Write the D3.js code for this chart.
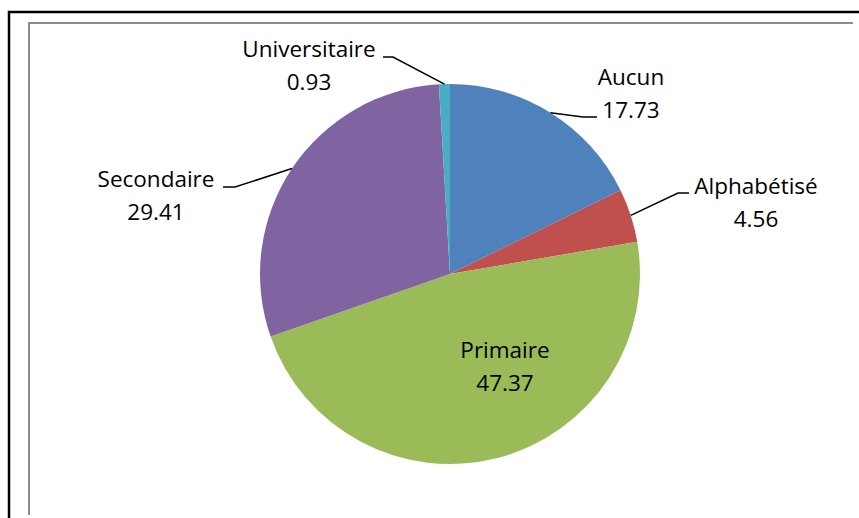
<!DOCTYPE html>
<html>
<head>
<meta charset="utf-8">
<script src="https://cdn.jsdelivr.net/npm/d3@7"></script>
<style>
  body { margin: 0; background: #fff; }
  svg text { font-family: "Open Sans", sans-serif; font-size: 22.5px; fill: #000; }
</style>
</head>
<body>
<div id="chart"></div>
<script>
// data
var categories = ["Aucun", "Alphabétisé", "Primaire", "Secondaire", "Universitaire"];
var values = [17.73, 4.56, 47.37, 29.41, 0.93];
var colors = ["#4F81BD", "#C0504D", "#9BBB59", "#8064A2", "#4BACC6"];

// label placement (text centre x, first baseline y, leader elbow and end)
var labelLayout = {
  "Aucun":         {x: 631, y: 85,  elbow: [583, 117], end: [597, 117]},
  "Alphabétisé":   {x: 756, y: 194, elbow: [678, 193], end: [689, 193]},
  "Primaire":      {x: 505, y: 358},
  "Secondaire":    {x: 156, y: 187, elbow: [235, 187], end: [223, 187]},
  "Universitaire": {x: 309, y: 57,  elbow: [393, 57],  end: [383, 57]}
};

var width = 859, height = 518;
var cx = 450, cy = 274, radius = 190;

var svg = d3.select("#chart").append("svg")
    .attr("width", width)
    .attr("height", height);

// frames
svg.append("path")
    .attr("d", "M9,520 V12 H862")
    .attr("fill", "none")
    .attr("stroke", "#000")
    .attr("stroke-width", 2.5);
svg.append("path")
    .attr("d", "M29,515 V23 H853")
    .attr("fill", "none")
    .attr("stroke", "#8c8c8c")
    .attr("stroke-width", 2);

var data = categories.map(function(c, i) { return {cat: c, value: values[i], color: colors[i]}; });

var pie = d3.pie().sort(null).value(function(d) { return d.value; });
var arc = d3.arc().innerRadius(0).outerRadius(radius);
var arcs = pie(data);

var g = svg.append("g").attr("transform", "translate(" + cx + "," + cy + ")");

g.selectAll("path.slice")
    .data(arcs)
    .enter().append("path")
    .attr("class", "slice")
    .attr("d", arc)
    .attr("fill", function(d) { return d.data.color; });

// leader lines from the slice edge at the mid angle
arcs.forEach(function(d) {
  var lay = labelLayout[d.data.cat];
  if (lay.elbow) {
    var a = (d.startAngle + d.endAngle) / 2;
    var p0 = [cx + radius * Math.sin(a), cy - radius * Math.cos(a)];
    svg.append("path")
        .attr("d", d3.line()([p0, lay.elbow, lay.end]))
        .attr("fill", "none")
        .attr("stroke", "#000")
        .attr("stroke-width", 1.5);
  }
  var t = svg.append("text")
      .attr("text-anchor", "middle")
      .attr("x", lay.x)
      .attr("y", lay.y);
  t.append("tspan").attr("x", lay.x).text(d.data.cat);
  t.append("tspan").attr("x", lay.x).attr("dy", 32.5).text(d.data.value.toFixed(2));
});
</script>
</body>
</html>
